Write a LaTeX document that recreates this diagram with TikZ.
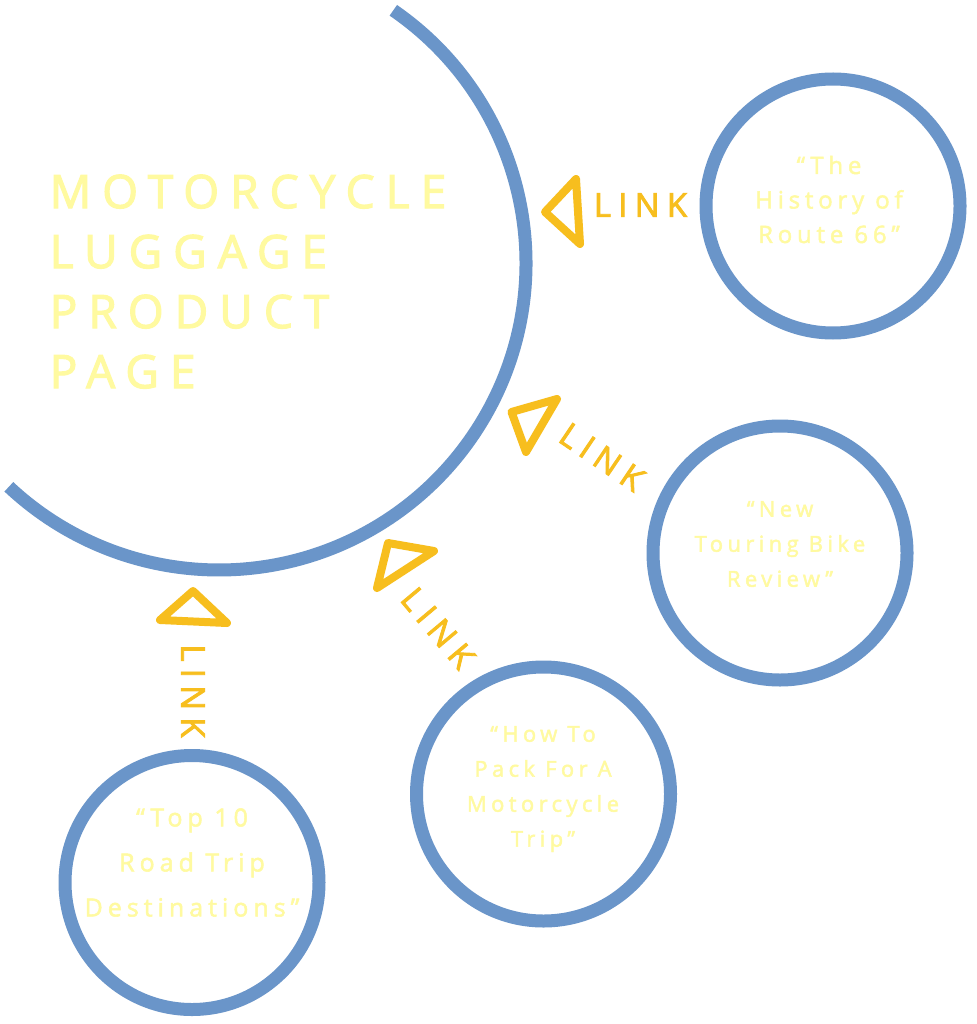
\documentclass[tikz,border=0pt]{standalone}
\usepackage{fontspec}
\newfontfamily\titlefont[LetterSpace=24,FakeBold=2.5]{Open Sans}
\newfontfamily\circfont[LetterSpace=20,FakeBold=2]{Open Sans}
\newfontfamily\linkfont[LetterSpace=22,FakeBold=2.5]{Open Sans}
\definecolor{circblue}{RGB}{106,149,201}
\definecolor{linkgold}{RGB}{247,190,30}
\definecolor{paleyellow}{RGB}{255,250,160}
\begin{document}
\begin{tikzpicture}[x=1pt,y=-1pt,
  ring/.style={circle, draw=circblue, line width=13pt, minimum size=254pt, inner sep=0pt},
  circtext/.style={text=paleyellow, align=center, inner sep=0pt, font=\circfont\fontsize{22}{35}\selectfont},
  linklabel/.style={text=linkgold, inner sep=0pt, font=\linkfont\fontsize{33}{40}\selectfont},
  linktri/.style={draw=linkgold, line width=8pt, line join=round},
  titletext/.style={text=paleyellow, align=left, inner sep=0pt, anchor=north west, font=\titlefont\fontsize{46}{60}\selectfont}]
\fill[white] (0,0) rectangle (976,1024);
\useasboundingbox (0,0) rectangle (976,1024);
% big arc
\coordinate (bigc) at (219,263);
\draw[circblue, line width=13pt] (bigc) ++(-55.4:307) arc[start angle=-55.4, end angle=133.2, radius=307];
\node[titletext] (title) at (49.5,174.5) {MOTORCYCLE\\LUGGAGE\\PRODUCT\\PAGE};
% circles
\node[ring] (c1) at (833,206) {};
\node[circtext, font=\circfont\fontsize{24}{34.5}\selectfont] (t1) at (829,199.5) {“The\\History of\\Route 66”};
\node[ring] (c2) at (780,553) {};
\node[circtext] (t2) at (780,544) {“New\\Touring Bike\\Review”};
\node[ring] (c3) at (543.5,794) {};
\node[circtext] (t3) at (543,789) {“How To\\Pack For A\\Motorcycle\\Trip”};
\node[ring] (c4) at (192,882.5) {};
\node[circtext, font=\circfont\fontsize{25}{45}\selectfont] (t4) at (192,862.5) {“Top 10\\Road Trip\\Destinations”};
% links
\draw[linktri] (545,212) -- (576,179) -- (580,244) -- cycle;
\node[linklabel] (l1) at (640.5,205) {LINK};
\draw[linktri] (511.5,412) -- (557,399) -- (526,452) -- cycle;
\node[linklabel, rotate=-34] (l2) at (602,457) {LINK};
\draw[linktri] (388,543) -- (434,551) -- (377,588) -- cycle;
\node[linklabel, rotate=-50] (l3) at (438,628) {LINK};
\draw[linktri] (193,591) -- (160,620) -- (227,623) -- cycle;
\node[linklabel, rotate=-90] (l4) at (193,691) {LINK};
\end{tikzpicture}
\end{document}
